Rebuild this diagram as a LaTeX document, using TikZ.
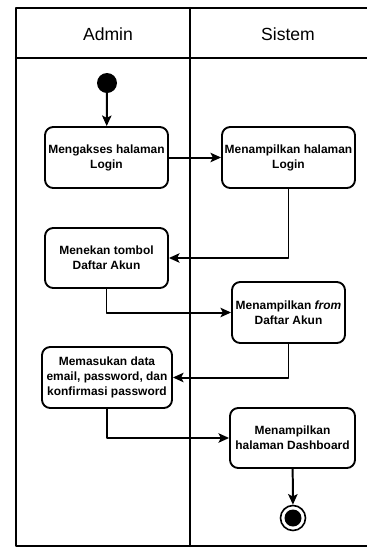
\documentclass[tikz,border=0pt]{standalone}
\usepackage{fontspec}
\setmainfont{Liberation Sans}
\usetikzlibrary{arrows.meta}

\begin{document}
\begin{tikzpicture}[x=0.03cm,y=-0.03cm,line cap=round,line join=round,
  >={Stealth[length=9pt,width=8pt,inset=2pt]},
  lane/.style={line width=1.8pt},
  hdr/.style={font=\fontsize{15}{18}\selectfont},
  act/.style={draw,line width=1.6pt,rounded corners=7pt,align=center,
    font=\bfseries\fontsize{10.2}{12.8}\selectfont,inner sep=2pt},
  flow/.style={->,line width=1.7pt}]
  \useasboundingbox (0,0) rectangle (367,548);

  % ---- swimlanes ----
  \draw[lane] (372,8) -- (16,8) -- (16,546) -- (372,546);
  \draw[lane] (16,58) -- (372,58);
  \draw[lane] (190,8) -- (190,546);
  \node[hdr] (admin) at (108,34) {Admin};
  \node[hdr] (sistem) at (288,34) {Sistem};

  % ---- start / end ----
  \node[circle,fill=black,minimum size=20*0.03cm,inner sep=0pt] (start) at (107,83) {};
  \node[circle,draw,line width=1.4pt,minimum size=25*0.03cm,inner sep=0pt] (end) at (293,518) {};
  \fill (end.center) circle (8.5);

  % ---- activities ----
  \node[act,minimum width=123*0.03cm,minimum height=61*0.03cm] (akses) at (106.5,157.5)
    {Mengakses halaman\\Login};
  \node[act,minimum width=133*0.03cm,minimum height=61*0.03cm] (login) at (288.5,157.5)
    {Menampilkan halaman\\Login};
  \node[act,minimum width=123*0.03cm,minimum height=60*0.03cm] (tombol) at (106.5,258)
    {Menekan tombol\\Daftar Akun};
  \node[act,minimum width=113*0.03cm,minimum height=61*0.03cm] (form) at (288.5,312.5)
    {Menampilkan \textit{from}\\Daftar Akun};
  \node[act,minimum width=130*0.03cm,minimum height=61*0.03cm] (data) at (107,377.5)
    {Memasukan data\\email, password, dan\\konfirmasi password};
  \node[act,minimum width=125*0.03cm,minimum height=60*0.03cm] (dash) at (292.5,438)
    {Menampilkan\\halaman Dashboard};

  % ---- flows ----
  \draw[flow] (start) -- (akses);
  \draw[flow] (akses) -- (login);
  \draw[flow] (login.south) |- (tombol.east);
  \draw[flow] (tombol.south) |- (form.west);
  \draw[flow] (form.south) |- (data.east);
  \draw[flow] (data.south) |- (dash.west);
  \draw[flow] (dash) -- (end);
\end{tikzpicture}
\end{document}
